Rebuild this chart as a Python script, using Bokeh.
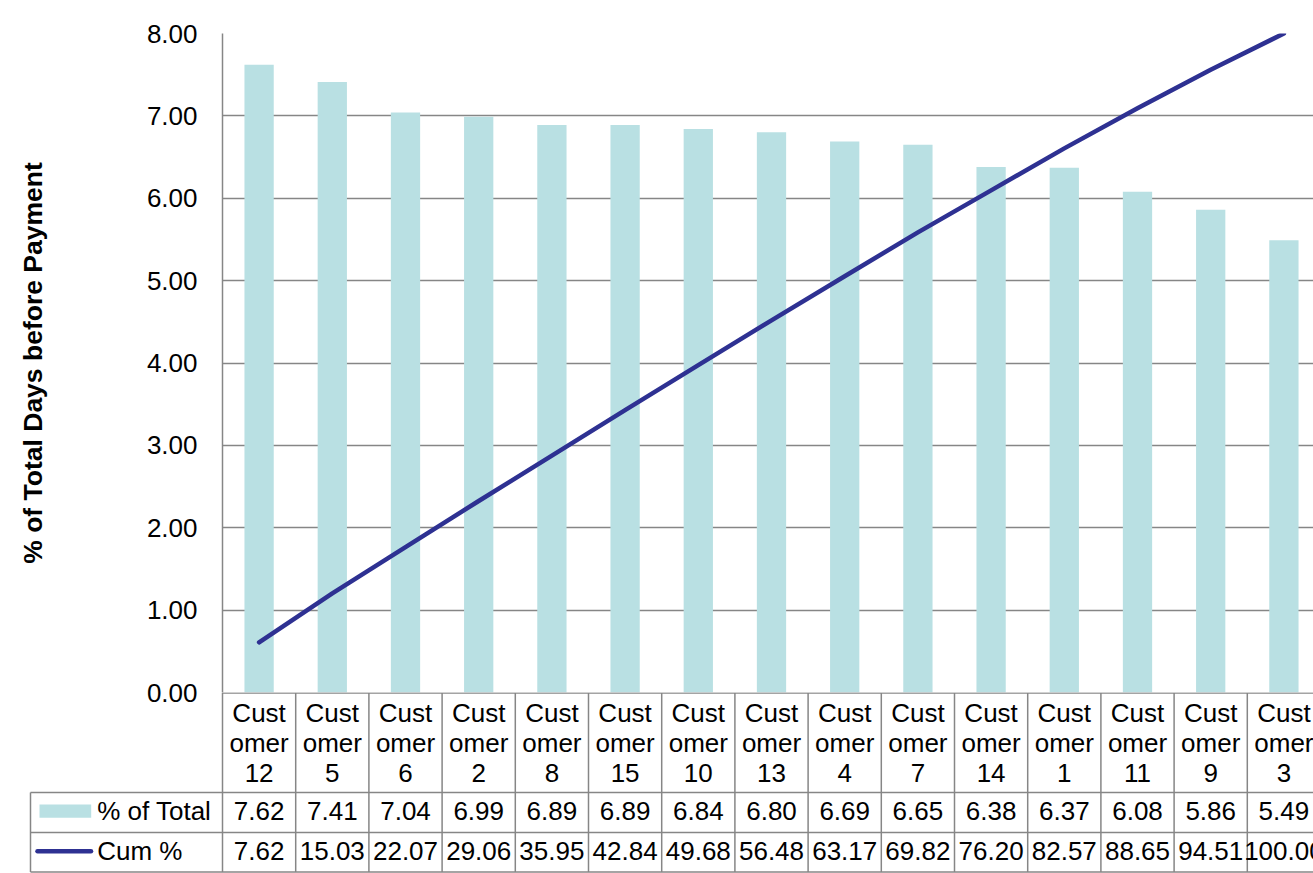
from bokeh.plotting import figure
from bokeh.layouts import column
from bokeh.models import Range1d, FixedTicker, NumeralTickFormatter
from bokeh.core.properties import value
from bokeh.embed import file_html
from bokeh.resources import INLINE

# ---- data -------------------------------------------------------------
customers = ["Customer 12", "Customer 5", "Customer 6", "Customer 2", "Customer 8",
             "Customer 15", "Customer 10", "Customer 13", "Customer 4", "Customer 7",
             "Customer 14", "Customer 1", "Customer 11", "Customer 9", "Customer 3"]
pct_total = [7.62, 7.41, 7.04, 6.99, 6.89, 6.89, 6.84, 6.80, 6.69, 6.65,
             6.38, 6.37, 6.08, 5.86, 5.49]
cum_pct = [7.62, 15.03, 22.07, 29.06, 35.95, 42.84, 49.68, 56.48, 63.17, 69.82,
           76.20, 82.57, 88.65, 94.51, 100.00]
y_ticks = [0, 1, 2, 3, 4, 5, 6, 7, 8]

# ---- layout constants (pixels) ---------------------------------------
FONT = "Liberation Sans"
FS = "26px"
PAGE_W = 1313
LEFT = 222          # left edge of the plot area / table columns
TOP = 33
FRAME_H = 659
OVERLAP = 20        # room under the plot area for the "0.00" label
TABLE_H = 181
COLW = 73.2         # width of one category column
FRAME_W = PAGE_W - LEFT
GRID = "#868686"
BAR = "#B9E0E3"
LINE = "#2E3192"

n = len(customers)
xs = [i + 0.5 for i in range(n)]

# ---- chart --------------------------------------------------------------
p = figure(width=PAGE_W, height=TOP + FRAME_H + OVERLAP,
           x_range=Range1d(0, FRAME_W / COLW), y_range=Range1d(0, 8),
           x_axis_location=None, y_axis_location="left",
           output_backend="svg", toolbar_location=None,
           min_border_left=LEFT, min_border_right=0,
           min_border_top=TOP, min_border_bottom=OVERLAP)
p.frame_align = False
p.outline_line_color = None
p.background_fill_color = "white"
p.border_fill_color = "white"
p.extra_y_ranges = {"cum": Range1d(0, 100)}

ax = p.yaxis[0]
ax.ticker = FixedTicker(ticks=y_ticks)
ax.formatter = NumeralTickFormatter(format="0.00")
ax.major_tick_line_color = None
ax.major_tick_out = 0
ax.major_tick_in = 0
ax.minor_tick_line_color = None
ax.axis_line_color = GRID
ax.axis_line_width = 1.5
ax.major_label_standoff = 25
ax.major_label_text_font = FONT
ax.major_label_text_font_size = FS
ax.major_label_text_color = "black"
ax.axis_label = "% of Total Days before Payment"
ax.axis_label_text_font = FONT
ax.axis_label_text_font_style = "bold"
ax.axis_label_text_font_size = "26.5px"
ax.axis_label_text_color = "black"
ax.axis_label_standoff = 96

p.xgrid.grid_line_color = None
p.ygrid.ticker = FixedTicker(ticks=y_ticks)
p.ygrid.grid_line_color = GRID
p.ygrid.grid_line_width = 1.5

p.vbar(x=xs, top=pct_total, width=0.4, fill_color=BAR, line_color=None)
p.line(x=xs, y=cum_pct, y_range_name="cum", line_color=LINE, line_width=4.5,
       line_cap="round", line_join="round")

# ---- data table under the chart ----------------------------------------
def px(x):
    """page x pixel -> table column units"""
    return (x - LEFT) / COLW

t = figure(width=PAGE_W, height=TABLE_H,
           x_range=Range1d(px(0), px(PAGE_W)), y_range=Range1d(TABLE_H, 0),
           x_axis_location=None, y_axis_location=None,
           output_backend="svg", toolbar_location=None, min_border=0)
t.frame_align = False
t.margin = (-OVERLAP, 0, 0, 0)
t.outline_line_color = None
t.xgrid.grid_line_color = None
t.ygrid.grid_line_color = None
t.background_fill_color = None
t.border_fill_color = None

ROW1, ROW2, ROW3 = 100, 140, 179.5
LEG_L = px(30)

# column borders
t.segment(x0=list(range(n + 1)), y0=[0.5] * (n + 1), x1=list(range(n + 1)), y1=[ROW3] * (n + 1),
          line_color=GRID, line_width=1.5)
# row borders
t.segment(x0=[0, LEG_L, LEG_L, LEG_L], y0=[0.5, ROW1, ROW2, ROW3],
          x1=[n, n, n, n], y1=[0.5, ROW1, ROW2, ROW3], line_color=GRID, line_width=1.5)
t.segment(x0=[LEG_L], y0=[ROW1], x1=[LEG_L], y1=[ROW3], line_color=GRID, line_width=1.5)

labels = [c[:4] + "\n" + c.split()[0][4:] + "\n" + c.split()[1] for c in customers]
t.text(x=xs, y=[50] * n, text=labels, text_align="center", text_baseline="middle",
       text_font=value(FONT), text_font_size=FS, text_line_height=1.0, text_color="black")
t.text(x=xs, y=[118] * n, text=["%.2f" % v for v in pct_total], text_align="center",
       text_baseline="middle", text_font=value(FONT), text_font_size=FS, text_color="black")
t.text(x=xs, y=[158] * n, text=["%.2f" % v for v in cum_pct], text_align="center",
       text_baseline="middle", text_font=value(FONT), text_font_size=FS, text_color="black")

# legend keys
t.quad(left=[px(39)], right=[px(90.7)], top=[112], bottom=[125.3], fill_color=BAR, line_color=None)
t.segment(x0=[px(37)], y0=[158.7], x1=[px(90.5)], y1=[158.7], line_color=LINE,
          line_width=4.5, line_cap="round")
t.text(x=[px(96.7), px(96.7)], y=[118, 158], text=["% of Total", "Cum %"], text_align="left",
       text_baseline="middle", text_font=value(FONT), text_font_size=FS, text_color="black")

layout = column(p, t, spacing=0)
open("out.html", "w").write(file_html(layout, INLINE))
